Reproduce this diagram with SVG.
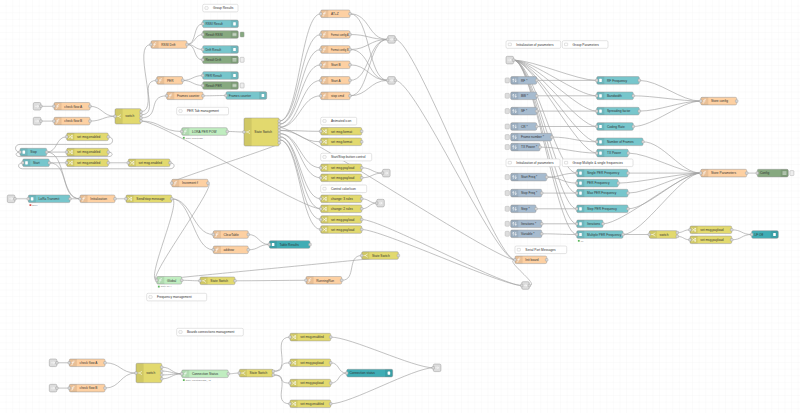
<svg xmlns="http://www.w3.org/2000/svg" width="800" height="413" viewBox="0 0 800 413">
<defs>
<pattern id="grid" width="6.6" height="6.6" patternUnits="userSpaceOnUse"><path d="M6.6 0V6.6H0" fill="none" stroke="#eee" stroke-width="0.5"/></pattern>
<rect id="pt" width="2.6" height="2.6" rx="0.6" fill="#d9d9d9" stroke="#999" stroke-width="0.4"/>
<path id="ial" d="M1.4 0H7.6V7.6H1.4A1.4 1.4 0 0 1 0 6.2V1.4A1.4 1.4 0 0 1 1.4 0Z" fill="#000" fill-opacity="0.08"/>
<path id="iar" d="M0 0H6.2A1.4 1.4 0 0 1 7.6 1.4V6.2A1.4 1.4 0 0 1 6.2 7.6H0Z" fill="#000" fill-opacity="0.08"/>
<path id="i-fn" class="ic" d="M4.9 2.1C4 1.8 3.6 2.3 3.5 3L3.1 5.4C3 6 2.6 6 2.2 5.7M2.7 3.6H4.5"/>
<path id="i-ch" class="ic" d="M2 2.4L5.6 5.2M2 5.2L5.6 2.4M4.6 2.4H5.6V3.3M4.6 5.2H5.6V4.3"/>
<path id="i-sw" class="ic" d="M5.7 2.3L3.4 3.8L5.7 5.3M1.9 3.8H3.4"/>
<path id="i-in" class="ic" d="M2.6 2.4V5.2M5 2.4V5.2M2 3.2L2.6 2.4L3.2 3.2M4.4 4.4L5 5.2L5.6 4.4"/>
<rect id="i-ui" x="2.5" y="2.2" width="2.6" height="3.2" rx="0.4" fill="#fff"/>
<path id="i-db" class="ic" d="M2.2 2.6H5.4M2.2 3.8H5.4M2.2 5H5.4"/>
<path id="i-lk" class="ic" d="M2 3.8H5.2M4.2 2.8L5.2 3.8L4.2 4.8"/>
<rect id="i-cm" x="2.2" y="2.4" width="3.2" height="2.6" rx="0.4" fill="none" stroke="#bbb" stroke-width="0.45"/>
<rect id="ib" x="-5.6" y="1.3" width="4.3" height="5" rx="1" fill="#ddd" stroke="#aaa" stroke-width="0.4"/>
</defs>
<style>
.n{stroke:#999;stroke-width:.5}
.fn{fill:#fdd0a2}.ch{fill:#e2d96e}.ui{fill:#77c6cc}.ud{fill:#3fadb5}.db{fill:#87a980}.ij{fill:#a6bbcf}.lk{fill:#ddd}.sg{fill:#c0edc0}.cm{fill:#fff;stroke:#c8c8c8;stroke-width:.5}
.ic{fill:none;stroke:#fff;stroke-width:.55;stroke-linecap:round;stroke-linejoin:round}
text{font-family:"Liberation Sans",Arial,sans-serif;font-size:3.2px;fill:#333}
text.s{font-size:2.3px;fill:#888}
.w{fill:none;stroke:#a0a0a0;stroke-width:.65}
.bt{stroke:#999;stroke-width:.4}
</style>
<rect width="800" height="413" fill="#fff"/>
<rect width="800" height="413" fill="url(#grid)"/>

<g id="connectors" class="w">
<path d="M40.9 106.3H54M40.9 121.1H54"/>
<path d="M90 106.3C102 106.3 103 116.35 115 116.35M90 121.1C102 121.1 103 116.35 115 116.35"/>
<path d="M141 111.7C161 111.7 131 44.5 151 44.5M141 114.8C161 114.8 136.7 80.4 156.7 80.4M141 117.9C161 117.9 146.7 95.8 166.7 95.8M141 121C161 121 161.7 131.5 181.7 131.5M141 121C161 121 300.7 208.8 320.7 208.8"/>
<path d="M187 44.5C197 44.5 192.7 23.8 202.7 23.8M187 44.5C195 44.5 194.7 34.5 202.7 34.5M187 44.5C195 44.5 194.7 49.5 202.7 49.5M187 44.5C197 44.5 192.7 59.8 202.7 59.8"/>
<path d="M182.7 80.4C192 80.4 193.4 75.5 202.7 75.5M182.7 80.4C192 80.4 193.4 85.5 202.7 85.5M203 95.8C214 95.8 215 95.5 226 95.5M227.3 131.5C236 131.5 235.3 132 244 132"/>
<path d="M279.3 121.1C299.3 121.1 300.7 13.8 320.7 13.8M279.3 121.1C299.3 121.1 300.7 34.5 320.7 34.5M279.3 124.2C299.3 124.2 300.7 49.5 320.7 49.5M279.3 124.2C299.3 124.2 300.7 64.8 320.7 64.8M279.3 127.3C299.3 127.3 300.7 80.4 320.7 80.4M279.3 127.3C299.3 127.3 300.7 95.8 320.7 95.8M279.3 127.3C299.3 127.3 495 259.8 515 259.8"/>
<path d="M279.3 130.4C299.3 130.4 300.7 131.3 320.7 131.3M279.3 130.4C299.3 130.4 300.7 141.8 320.7 141.8M279.3 133.5C299.3 133.5 300.7 167.8 320.7 167.8M279.3 133.5C299.3 133.5 300.7 177.8 320.7 177.8M279.3 136.6C299.3 136.6 300.7 198.8 320.7 198.8M279.3 136.6C299.3 136.6 300.7 208.8 320.7 208.8M279.3 139.7C299.3 139.7 300.7 219.5 320.7 219.5M279.3 139.7C299.3 139.7 300.7 229.5 320.7 229.5M279.3 142.8C291 142.8 160 183.1 171.7 183.1"/>
<path d="M350 13.8C370 13.8 367.7 39.4 387.7 39.4M350 13.8C370 13.8 367.7 80.4 387.7 80.4M350 34.5C368 34.5 369.7 39.4 387.7 39.4M350 49.5C368 49.5 369.7 39.4 387.7 39.4M350 49.5C370 49.5 367.7 80.4 387.7 80.4M350 64.8C368 64.8 369.7 80.4 387.7 80.4M350 80.4C370 80.4 367.7 39.4 387.7 39.4M350 95.8C370 95.8 367.7 39.4 387.7 39.4M350 95.8C368 95.8 369.7 80.4 387.7 80.4"/>
<path d="M395.3 39.4C415.3 39.4 495 259.8 515 259.8M395.3 80.4C415.3 80.4 495 259.8 515 259.8"/>
<path d="M361.7 167.8C372 167.8 372.2 173.1 382.5 173.1M361.7 177.8C372 177.8 372.2 173.1 382.5 173.1M361.7 198.8C369 198.8 369.4 203.1 376.7 203.1M361.7 208.8C369 208.8 369.4 203.1 376.7 203.1"/>
<path d="M361.7 219.5C381.7 219.5 501.7 285.5 521.7 285.5M361.7 229.5C381.7 229.5 501.7 285.5 521.7 285.5M529.3 285.5C541 285.5 503.3 259.8 515 259.8"/>
<path d="M46.7 152.1H66.7M46.7 152.1C58 152.1 55.4 136.8 66.7 136.8M46.7 152.1C66.7 152.1 60 198.8 80 198.8M49.3 162.8H66.7M49.3 162.8C69.3 162.8 60 198.8 80 198.8"/>
<path d="M108.3 152.1C113.5 152.1 113.5 156.6 108.3 156.6H20C14.8 156.6 14.8 152.1 20 152.1M170 162.8C175.5 162.8 175.5 168.8 170 168.8H22.7C17.2 168.8 17.2 162.8 22.7 162.8M108.3 136.8C114 136.8 114 144.4 108.3 144.4H20C14 144.4 14 152.1 20 152.1M108.3 162.8H128.3"/>
<path d="M14.9 198.8H28.3M70 198.8H80M115 198.8H126"/>
<path d="M171.7 198.8C191.7 198.8 193.3 234.5 213.3 234.5M171.7 198.8C191.7 198.8 193.3 249.8 213.3 249.8M171.7 198.8C183 198.8 145 280.3 156.7 280.3M208 183.1C219 183.1 145 280.3 156.7 280.3"/>
<path d="M248.3 234.5C259 234.5 258.6 244.5 269.3 244.5M248.3 249.8C259 249.8 258.6 244.5 269.3 244.5"/>
<path d="M181.7 280.3C191 280.3 190.7 280.8 200 280.8M235 280.8C255 280.8 286 280.3 306 280.3M341.7 280.3C357 280.3 346.4 255.5 361.7 255.5M398.4 255.5C410 255.5 145 280.3 156.7 280.3"/>
<path d="M513.6 60.1C533.6 60.1 576.7 80.4 596.7 80.4M513.6 60.1C533.6 60.1 576.7 95.8 596.7 95.8M513.6 60.1C533.6 60.1 576.7 111.1 596.7 111.1M513.6 60.1C533.6 60.1 576.7 126.5 596.7 126.5M513.6 60.1C533.6 60.1 576.7 141.8 596.7 141.8M513.6 60.1C533.6 60.1 576.7 153.1 596.7 153.1"/>
<path d="M513.6 60.1C533.6 60.1 556.7 173.1 576.7 173.1M513.6 60.1C533.6 60.1 556.7 193.1 576.7 193.1M513.6 60.1C533.6 60.1 556.7 208.8 576.7 208.8M513.6 60.1C533.6 60.1 556.7 223.8 576.7 223.8M513.6 60.1C533.6 60.1 556.7 234.5 576.7 234.5"/>
<path d="M536.7 80.4H596.7M536.7 95.8H596.7M536.7 111.1H596.7M536.7 126.5H596.7M551.7 137.1C571.7 137.1 576.7 141.8 596.7 141.8M540 147.1C560 147.1 576.7 153.1 596.7 153.1"/>
<path d="M546.7 177.1C561 177.1 562.4 173.1 576.7 173.1M546.7 177.1C561 177.1 562.4 183.1 576.7 183.1M541.7 193.1H576.7M536 208.8H576.7M541.7 223.8H576.7M541.7 233.8C559 233.8 559.4 234.5 576.7 234.5"/>
<path d="M639.3 80.4C659.3 80.4 680.7 101.1 700.7 101.1M633.3 95.8C653.3 95.8 680.7 101.1 700.7 101.1M639.3 111.1C659.3 111.1 680.7 101.1 700.7 101.1M633.3 126.5C653.3 126.5 680.7 101.1 700.7 101.1"/>
<path d="M643 141.8C663 141.8 680.7 173.1 700.7 173.1M628.3 153.1C648.3 153.1 680.7 173.1 700.7 173.1M628 173.1H700.7M618.3 183.1C638.3 183.1 680.7 173.1 700.7 173.1M628 193.1C648 193.1 680.7 173.1 700.7 173.1M628 208.8C648 208.8 680.7 173.1 700.7 173.1M603 223.8C623 223.8 680.7 173.1 700.7 173.1M623 234.5C643 234.5 680.7 173.1 700.7 173.1"/>
<path d="M746.7 173.1H757.3M623 234.5H649.3M677.3 232.6C684 232.6 683.3 229.8 690 229.8M677.3 236.4C684 236.4 683.3 239.8 690 239.8M731.7 229.8C742 229.8 741.4 234.5 751.7 234.5M731.7 239.8C742 239.8 741.4 234.5 751.7 234.5"/>
<path d="M56.9 362.8H69.3M56.9 388.1H69.3M105 362.8C120.5 362.8 120.5 373 136 373M105 388.1C120.5 388.1 120.5 373 136 373"/>
<path d="M161.7 367.2C171.7 367.2 171.7 373.8 181.7 373.8M161.7 371.1C171.7 371.1 171.7 373.8 181.7 373.8M161.7 374.9C171.7 374.9 171.7 373.8 181.7 373.8M161.7 378.8C171.7 378.8 171.7 373.8 181.7 373.8M228.3 373.8C234 373.8 233.6 373.1 239.3 373.1"/>
<path d="M273.3 371.3C293.3 371.3 270 337.1 290 337.1M273.3 371.3C288 371.3 275.3 362.8 290 362.8M273.3 374.9C288 374.9 275.3 383.1 290 383.1M273.3 374.9C293.3 374.9 270 403.8 290 403.8"/>
<path d="M330.7 362.8C340 362.8 337.4 373.1 346.7 373.1M330.7 383.1C340 383.1 337.4 373.1 346.7 373.1M330.7 337.1C350.7 337.1 413.3 367.8 433.3 367.8M330.7 403.8C350.7 403.8 413.3 367.8 433.3 367.8"/>
</g>

<!-- comments -->
<g id="c-group-results" transform="translate(202.7,4.3)"><rect class="cm" width="35.3" height="7.6" rx="1.4"/><use href="#i-cm"/><text x="10.3" y="5">Group Results</text></g>
<g id="c-per-tab" transform="translate(176.7,107.3)"><rect class="cm" width="51.8" height="7.6" rx="1.4"/><use href="#i-cm"/><text x="10.3" y="5">PER Tab management</text></g>
<g id="c-animated" transform="translate(320.7,117.3)"><rect class="cm" width="36" height="7.6" rx="1.4"/><use href="#i-cm"/><text x="10.3" y="5">Animated icon</text></g>
<g id="c-startstop" transform="translate(320.7,153.3)"><rect class="cm" width="51" height="7.6" rx="1.4"/><use href="#i-cm"/><text x="10.3" y="5">Start/Stop button control</text></g>
<g id="c-color" transform="translate(320.7,185)"><rect class="cm" width="46" height="7.6" rx="1.4"/><use href="#i-cm"/><text x="10.3" y="5">Control color/icon</text></g>
<g id="c-init1" transform="translate(506,40.7)"><rect class="cm" width="54.7" height="7.6" rx="1.4"/><use href="#i-cm"/><text x="10.3" y="5">Initialization of parameters</text></g>
<g id="c-grp-params" transform="translate(562.3,40.7)"><rect class="cm" width="45.7" height="7.6" rx="1.4"/><use href="#i-cm"/><text x="10.3" y="5">Group Parameters</text></g>
<g id="c-init2" transform="translate(506,159)"><rect class="cm" width="54" height="7.6" rx="1.4"/><use href="#i-cm"/><text x="10.3" y="5">Initialization of parameters</text></g>
<g id="c-grp-freq" transform="translate(562.3,159)"><rect class="cm" width="70.7" height="7.6" rx="1.4"/><use href="#i-cm"/><text x="10.3" y="5">Group Multiple &amp; single frequencies</text></g>
<g id="c-serial" transform="translate(515,246)"><rect class="cm" width="51.7" height="7.6" rx="1.4"/><use href="#i-cm"/><text x="10.3" y="5">Serial Port Messages</text></g>
<g id="c-freq" transform="translate(146.7,293.3)"><rect class="cm" width="60" height="7.6" rx="1.4"/><use href="#i-cm"/><text x="10.3" y="5">Frequency management</text></g>
<g id="c-boards" transform="translate(176.7,328.3)"><rect class="cm" width="66.6" height="7.6" rx="1.4"/><use href="#i-cm"/><text x="10.3" y="5">Boards connections management</text></g>

<!-- top-left flow -->
<g id="link-1" transform="translate(33.3,102.5)"><rect class="n lk" width="7.6" height="7.6" rx="1.4"/><use href="#i-lk"/><use href="#pt" x="6.3" y="2.5"/></g>
<g id="link-2" transform="translate(33.3,117.3)"><rect class="n lk" width="7.6" height="7.6" rx="1.4"/><use href="#i-lk"/><use href="#pt" x="6.3" y="2.5"/></g>
<g id="check-a" transform="translate(54,102.5)"><rect class="n fn" width="36" height="7.6" rx="1.4"/><use href="#ial"/><use href="#i-fn"/><text x="10.3" y="5">check flow A</text><use href="#pt" x="-1.3" y="2.5"/><use href="#pt" x="34.7" y="2.5"/></g>
<g id="check-b" transform="translate(54,117.3)"><rect class="n fn" width="36" height="7.6" rx="1.4"/><use href="#ial"/><use href="#i-fn"/><text x="10.3" y="5">check flow B</text><use href="#pt" x="-1.3" y="2.5"/><use href="#pt" x="34.7" y="2.5"/></g>
<g id="switch-1" transform="translate(115,108.7)"><rect class="n ch" width="26" height="15.3" rx="1.4"/><path d="M1.4 0H7.6V15.3H1.4A1.4 1.4 0 0 1 0 13.9V1.4A1.4 1.4 0 0 1 1.4 0Z" fill="#000" fill-opacity="0.08"/><use href="#i-sw" y="3.85"/><text x="10.3" y="8.8">switch</text><use href="#pt" x="-1.3" y="6.35"/><use href="#pt" x="24.7" y="1.7"/><use href="#pt" x="24.7" y="4.8"/><use href="#pt" x="24.7" y="7.9"/><use href="#pt" x="24.7" y="11"/></g>
<g id="rssi-drift" transform="translate(151,40.7)"><rect class="n fn" width="36" height="7.6" rx="1.4"/><use href="#ial"/><use href="#i-fn"/><text x="10.3" y="5">RSSI Drift</text><use href="#pt" x="-1.3" y="2.5"/><use href="#pt" x="34.7" y="2.5"/></g>
<g id="per" transform="translate(156.7,76.6)"><rect class="n fn" width="26" height="7.6" rx="1.4"/><use href="#ial"/><use href="#i-fn"/><text x="10.3" y="5">PER</text><use href="#pt" x="-1.3" y="2.5"/><use href="#pt" x="24.7" y="2.5"/></g>
<g id="frames-counter-fn" transform="translate(166.7,92)"><rect class="n fn" width="36.3" height="7.6" rx="1.4"/><use href="#ial"/><use href="#i-fn"/><text x="10.3" y="5">Frames counter</text><use href="#pt" x="-1.3" y="2.5"/><use href="#pt" x="35" y="2.5"/></g>
<g id="lora-per-pow" transform="translate(181.7,127.7)"><rect class="n sg" width="45.6" height="7.6" rx="1.4"/><use href="#ial"/><use href="#i-fn"/><text x="10.3" y="5">LORA PER POW</text><use href="#pt" x="-1.3" y="2.5"/><use href="#pt" x="44.3" y="2.5"/><rect x="1.2" y="9.2" width="1.8" height="1.8" fill="#5cb85c"/><text class="s" x="4" y="10.9">state: STOPPED</text></g>
<g id="set-enabled-a" transform="translate(66.7,133)"><rect class="n ch" width="41.6" height="7.6" rx="1.4"/><use href="#ial"/><use href="#i-ch"/><text x="10.3" y="5">set msg.enabled</text><use href="#pt" x="-1.3" y="2.5"/><use href="#pt" x="40.3" y="2.5"/></g>

<!-- results -->
<g id="rssi-result" transform="translate(202.7,20)"><rect class="n ui" width="35.6" height="7.6" rx="1.4"/><use href="#iar" x="28"/><use href="#i-ui" x="28"/><text x="2.7" y="5">RSSI Result</text><use href="#pt" x="-1.3" y="2.5"/></g>
<g id="result-rssi" transform="translate(202.7,30.7)"><rect class="n db" width="35.6" height="7.6" rx="1.4"/><use href="#iar" x="28"/><use href="#i-db" x="28"/><text x="2.7" y="5">Result RSSI</text><use href="#pt" x="-1.3" y="2.5"/><rect class="bt" x="37.4" y="1.3" width="4" height="5" rx="0.8" fill="#87a980"/></g>
<g id="drift-result" transform="translate(202.7,45.7)"><rect class="n ui" width="35.6" height="7.6" rx="1.4"/><use href="#iar" x="28"/><use href="#i-ui" x="28"/><text x="2.7" y="5">Drift Result</text><use href="#pt" x="-1.3" y="2.5"/></g>
<g id="result-drift" transform="translate(202.7,56)"><rect class="n db" width="35.6" height="7.6" rx="1.4"/><use href="#iar" x="28"/><use href="#i-db" x="28"/><text x="2.7" y="5">Result Drift</text><use href="#pt" x="-1.3" y="2.5"/><rect class="bt" x="37.4" y="1.3" width="4" height="5" rx="0.8" fill="#eee"/></g>
<g id="per-result" transform="translate(202.7,71.7)"><rect class="n ui" width="35.6" height="7.6" rx="1.4"/><use href="#iar" x="28"/><use href="#i-ui" x="28"/><text x="2.7" y="5">PER Result</text><use href="#pt" x="-1.3" y="2.5"/></g>
<g id="result-per" transform="translate(202.7,81.7)"><rect class="n db" width="35.6" height="7.6" rx="1.4"/><use href="#iar" x="28"/><use href="#i-db" x="28"/><text x="2.7" y="5">Result PER</text><use href="#pt" x="-1.3" y="2.5"/><rect class="bt" x="37.4" y="1.3" width="4" height="5" rx="0.8" fill="#eee"/></g>
<g id="frames-counter-ui" transform="translate(226,91.7)"><rect class="n ui" width="40.7" height="7.6" rx="1.4"/><use href="#iar" x="33.1"/><use href="#i-ui" x="33.1"/><text x="2.7" y="5">Frames counter</text><use href="#pt" x="-1.3" y="2.5"/></g>

<!-- state switch and commands -->
<g id="state-switch-main" transform="translate(244,118)"><rect class="n ch" width="35.3" height="28" rx="1.4"/><path d="M1.4 0H7.6V28H1.4A1.4 1.4 0 0 1 0 26.6V1.4A1.4 1.4 0 0 1 1.4 0Z" fill="#000" fill-opacity="0.08"/><use href="#i-sw" y="10.2"/><text x="10.3" y="15.1">State Switch</text><use href="#pt" x="-1.3" y="12.7"/><use href="#pt" x="34" y="1.8"/><use href="#pt" x="34" y="4.9"/><use href="#pt" x="34" y="8"/><use href="#pt" x="34" y="11.1"/><use href="#pt" x="34" y="14.2"/><use href="#pt" x="34" y="17.3"/><use href="#pt" x="34" y="20.4"/><use href="#pt" x="34" y="23.5"/></g>
<g id="at-z" transform="translate(320.7,10)"><rect class="n fn" width="29.3" height="7.6" rx="1.4"/><use href="#ial"/><use href="#i-fn"/><text x="10.3" y="5">AT+Z</text><use href="#pt" x="-1.3" y="2.5"/><use href="#pt" x="28" y="2.5"/></g>
<g id="format-a" transform="translate(320.7,30.7)"><rect class="n fn" width="29.3" height="7.6" rx="1.4"/><use href="#ial"/><use href="#i-fn"/><text x="10.3" y="5" textLength="17.6" lengthAdjust="spacingAndGlyphs">Format config A</text><use href="#pt" x="-1.3" y="2.5"/><use href="#pt" x="28" y="2.5"/></g>
<g id="format-b" transform="translate(320.7,45.7)"><rect class="n fn" width="29.3" height="7.6" rx="1.4"/><use href="#ial"/><use href="#i-fn"/><text x="10.3" y="5" textLength="17.6" lengthAdjust="spacingAndGlyphs">Format config B</text><use href="#pt" x="-1.3" y="2.5"/><use href="#pt" x="28" y="2.5"/></g>
<g id="start-b" transform="translate(320.7,61)"><rect class="n fn" width="29.3" height="7.6" rx="1.4"/><use href="#ial"/><use href="#i-fn"/><text x="10.3" y="5">Start B</text><use href="#pt" x="-1.3" y="2.5"/><use href="#pt" x="28" y="2.5"/></g>
<g id="start-a" transform="translate(320.7,76.6)"><rect class="n fn" width="29.3" height="7.6" rx="1.4"/><use href="#ial"/><use href="#i-fn"/><text x="10.3" y="5">Start A</text><use href="#pt" x="-1.3" y="2.5"/><use href="#pt" x="28" y="2.5"/></g>
<g id="stop-cmd" transform="translate(320.7,92)"><rect class="n fn" width="29.3" height="7.6" rx="1.4"/><use href="#ial"/><use href="#i-fn"/><text x="10.3" y="5">stop cmd</text><use href="#pt" x="-1.3" y="2.5"/><use href="#pt" x="28" y="2.5"/></g>
<g id="link-3" transform="translate(387.7,35.6)"><rect class="n lk" width="7.6" height="7.6" rx="1.4"/><use href="#i-lk"/><use href="#pt" x="-1.3" y="2.5"/><use href="#pt" x="6.3" y="2.5"/></g>
<g id="link-4" transform="translate(387.7,76.6)"><rect class="n lk" width="7.6" height="7.6" rx="1.4"/><use href="#i-lk"/><use href="#pt" x="-1.3" y="2.5"/><use href="#pt" x="6.3" y="2.5"/></g>
<g id="set-format-1" transform="translate(320.7,127.5)"><rect class="n ch" width="41" height="7.6" rx="1.4"/><use href="#ial"/><use href="#i-ch"/><text x="10.3" y="5">set msg.format</text><use href="#pt" x="-1.3" y="2.5"/><use href="#pt" x="39.7" y="2.5"/></g>
<g id="set-format-2" transform="translate(320.7,138)"><rect class="n ch" width="41" height="7.6" rx="1.4"/><use href="#ial"/><use href="#i-ch"/><text x="10.3" y="5">set msg.format</text><use href="#pt" x="-1.3" y="2.5"/><use href="#pt" x="39.7" y="2.5"/></g>
<g id="set-payload-1" transform="translate(320.7,164)"><rect class="n ch" width="41" height="7.6" rx="1.4"/><use href="#ial"/><use href="#i-ch"/><text x="10.3" y="5">set msg.payload</text><use href="#pt" x="-1.3" y="2.5"/><use href="#pt" x="39.7" y="2.5"/></g>
<g id="set-payload-2" transform="translate(320.7,174)"><rect class="n ch" width="41" height="7.6" rx="1.4"/><use href="#ial"/><use href="#i-ch"/><text x="10.3" y="5">set msg.payload</text><use href="#pt" x="-1.3" y="2.5"/><use href="#pt" x="39.7" y="2.5"/></g>
<g id="link-6" transform="translate(382.5,169.3)"><rect class="n lk" width="7.6" height="7.6" rx="1.4"/><use href="#i-lk"/><use href="#pt" x="-1.3" y="2.5"/></g>
<g id="change-3" transform="translate(320.7,195)"><rect class="n ch" width="41" height="7.6" rx="1.4"/><use href="#ial"/><use href="#i-ch"/><text x="10.3" y="5">change: 3 rules</text><use href="#pt" x="-1.3" y="2.5"/><use href="#pt" x="39.7" y="2.5"/></g>
<g id="change-2" transform="translate(320.7,205)"><rect class="n ch" width="41" height="7.6" rx="1.4"/><use href="#ial"/><use href="#i-ch"/><text x="10.3" y="5">change: 2 rules</text><use href="#pt" x="-1.3" y="2.5"/><use href="#pt" x="39.7" y="2.5"/></g>
<g id="link-7" transform="translate(376.7,199.3)"><rect class="n lk" width="7.6" height="7.6" rx="1.4"/><use href="#i-lk"/><use href="#pt" x="-1.3" y="2.5"/></g>
<g id="set-payload-3" transform="translate(320.7,215.7)"><rect class="n ch" width="41" height="7.6" rx="1.4"/><use href="#ial"/><use href="#i-ch"/><text x="10.3" y="5">set msg.payload</text><use href="#pt" x="-1.3" y="2.5"/><use href="#pt" x="39.7" y="2.5"/></g>
<g id="set-payload-4" transform="translate(320.7,225.7)"><rect class="n ch" width="41" height="7.6" rx="1.4"/><use href="#ial"/><use href="#i-ch"/><text x="10.3" y="5">set msg.payload</text><use href="#pt" x="-1.3" y="2.5"/><use href="#pt" x="39.7" y="2.5"/></g>

<!-- start / stop -->
<g id="stop" transform="translate(20,148.3)"><rect class="n ui" width="26.7" height="7.6" rx="1.4"/><use href="#ial"/><use href="#i-ui"/><text x="10.3" y="5">Stop</text><use href="#pt" x="-1.3" y="2.5"/><use href="#pt" x="25.4" y="2.5"/></g>
<g id="start" transform="translate(22.7,159)"><rect class="n ui" width="26.6" height="7.6" rx="1.4"/><use href="#ial"/><use href="#i-ui"/><text x="10.3" y="5">Start</text><use href="#pt" x="-1.3" y="2.5"/><use href="#pt" x="25.3" y="2.5"/></g>
<g id="set-enabled-b" transform="translate(66.7,148.3)"><rect class="n ch" width="41.6" height="7.6" rx="1.4"/><use href="#ial"/><use href="#i-ch"/><text x="10.3" y="5">set msg.enabled</text><use href="#pt" x="-1.3" y="2.5"/><use href="#pt" x="40.3" y="2.5"/></g>
<g id="set-enabled-c" transform="translate(66.7,159)"><rect class="n ch" width="41.6" height="7.6" rx="1.4"/><use href="#ial"/><use href="#i-ch"/><text x="10.3" y="5">set msg.enabled</text><use href="#pt" x="-1.3" y="2.5"/><use href="#pt" x="40.3" y="2.5"/></g>
<g id="set-enabled-d" transform="translate(128.3,159)"><rect class="n ch" width="41.7" height="7.6" rx="1.4"/><use href="#ial"/><use href="#i-ch"/><text x="10.3" y="5">set msg.enabled</text><use href="#pt" x="-1.3" y="2.5"/><use href="#pt" x="40.4" y="2.5"/></g>

<!-- transmit chain -->
<g id="link-8" transform="translate(7.3,195)"><rect class="n lk" width="7.6" height="7.6" rx="1.4"/><use href="#i-lk"/><use href="#pt" x="6.3" y="2.5"/></g>
<g id="lora-transmit" transform="translate(28.3,195)"><rect class="n ui" width="41.7" height="7.6" rx="1.4"/><use href="#ial"/><use href="#i-ui"/><text x="10.3" y="5">LoRa Transmit</text><use href="#pt" x="-1.3" y="2.5"/><use href="#pt" x="40.4" y="2.5"/><rect x="1.2" y="9.2" width="1.8" height="1.8" fill="#d9534f"/><text class="s" x="4" y="10.9">Error</text></g>
<g id="initialization" transform="translate(80,195)"><rect class="n fn" width="35" height="7.6" rx="1.4"/><use href="#ial"/><use href="#i-fn"/><text x="10.3" y="5">Initialization</text><use href="#pt" x="-1.3" y="2.5"/><use href="#pt" x="33.7" y="2.5"/></g>
<g id="send-stop" transform="translate(126,195)"><rect class="n ch" width="45.7" height="7.6" rx="1.4"/><use href="#ial"/><use href="#i-ch"/><text x="10.3" y="5">Send/stop message</text><use href="#pt" x="-1.3" y="2.5"/><use href="#pt" x="44.4" y="2.5"/></g>
<g id="increment-f" transform="translate(171.7,179.3)"><rect class="n fn" width="36.3" height="7.6" rx="1.4"/><use href="#ial"/><use href="#i-fn"/><text x="10.3" y="5">Increment f</text><use href="#pt" x="-1.3" y="2.5"/><use href="#pt" x="35" y="2.5"/></g>
<g id="clear-table" transform="translate(213.3,230.7)"><rect class="n fn" width="35" height="7.6" rx="1.4"/><use href="#ial"/><use href="#i-fn"/><text x="10.3" y="5">ClearTable</text><use href="#pt" x="-1.3" y="2.5"/><use href="#pt" x="33.7" y="2.5"/></g>
<g id="addrow" transform="translate(213.3,246)"><rect class="n fn" width="35" height="7.6" rx="1.4"/><use href="#ial"/><use href="#i-fn"/><text x="10.3" y="5">addrow</text><use href="#pt" x="-1.3" y="2.5"/><use href="#pt" x="33.7" y="2.5"/></g>
<g id="table-results" transform="translate(269.3,240.7)"><rect class="n ud" width="40.7" height="7.6" rx="1.4"/><use href="#ial"/><use href="#i-ui"/><text x="10.3" y="5">Table Results</text><use href="#pt" x="-1.3" y="2.5"/><use href="#pt" x="39.4" y="2.5"/></g>
<g id="state-switch-small" transform="translate(361.7,251.7)"><rect class="n ch" width="36.7" height="7.6" rx="1.4"/><use href="#ial"/><use href="#i-sw"/><text x="10.3" y="5">State Switch</text><use href="#pt" x="-1.3" y="2.5"/><use href="#pt" x="35.4" y="2.5"/></g>
<g id="global" transform="translate(156.7,276.5)"><rect class="n sg" width="25" height="7.6" rx="1.4"/><use href="#ial"/><use href="#i-fn"/><text x="10.3" y="5">Global</text><use href="#pt" x="-1.3" y="2.5"/><use href="#pt" x="23.7" y="2.5"/><rect x="1.2" y="9.2" width="1.8" height="1.8" fill="#5cb85c"/><text class="s" x="4" y="10.9">state: 50.4</text></g>
<g id="state-switch-2" transform="translate(200,277)"><rect class="n ch" width="35" height="7.6" rx="1.4"/><use href="#ial"/><use href="#i-sw"/><text x="10.3" y="5">State Switch</text><use href="#pt" x="-1.3" y="2.5"/><use href="#pt" x="33.7" y="2.5"/></g>
<g id="running-run" transform="translate(306,276.5)"><rect class="n fn" width="35.7" height="7.6" rx="1.4"/><use href="#ial"/><use href="#i-fn"/><text x="10.3" y="5">RunningRun</text><use href="#pt" x="-1.3" y="2.5"/><use href="#pt" x="34.4" y="2.5"/></g>

<!-- parameters -->
<g id="link-5" transform="translate(506,56.3)"><rect class="n lk" width="7.6" height="7.6" rx="1.4"/><use href="#i-lk"/><use href="#pt" x="6.3" y="2.5"/></g>
<g id="inj-rf" transform="translate(510.7,76.6)"><use href="#ib"/><rect class="n ij" width="26" height="7.6" rx="1.4"/><use href="#ial"/><use href="#i-in"/><text x="10.3" y="5">RF *</text><use href="#pt" x="24.7" y="2.5"/></g>
<g id="inj-bw" transform="translate(510.7,92)"><use href="#ib"/><rect class="n ij" width="26" height="7.6" rx="1.4"/><use href="#ial"/><use href="#i-in"/><text x="10.3" y="5">BW *</text><use href="#pt" x="24.7" y="2.5"/></g>
<g id="inj-sf" transform="translate(510.7,107.3)"><use href="#ib"/><rect class="n ij" width="26" height="7.6" rx="1.4"/><use href="#ial"/><use href="#i-in"/><text x="10.3" y="5">SF *</text><use href="#pt" x="24.7" y="2.5"/></g>
<g id="inj-cr" transform="translate(510.7,122.7)"><use href="#ib"/><rect class="n ij" width="26" height="7.6" rx="1.4"/><use href="#ial"/><use href="#i-in"/><text x="10.3" y="5">CR *</text><use href="#pt" x="24.7" y="2.5"/></g>
<g id="inj-frame" transform="translate(510.7,133.3)"><use href="#ib"/><rect class="n ij" width="41" height="7.6" rx="1.4"/><use href="#ial"/><use href="#i-in"/><text x="10.3" y="5">Frame number *</text><use href="#pt" x="39.7" y="2.5"/></g>
<g id="inj-tx" transform="translate(510.7,143.3)"><use href="#ib"/><rect class="n ij" width="29.3" height="7.6" rx="1.4"/><use href="#ial"/><use href="#i-in"/><text x="10.3" y="5">TX Power *</text><use href="#pt" x="28" y="2.5"/></g>
<g id="inj-start" transform="translate(510.7,173.3)"><use href="#ib"/><rect class="n ij" width="36" height="7.6" rx="1.4"/><use href="#ial"/><use href="#i-in"/><text x="10.3" y="5">Start Freq *</text><use href="#pt" x="34.7" y="2.5"/></g>
<g id="inj-stop" transform="translate(510.7,189.3)"><use href="#ib"/><rect class="n ij" width="31" height="7.6" rx="1.4"/><use href="#ial"/><use href="#i-in"/><text x="10.3" y="5">Stop Freq *</text><use href="#pt" x="29.7" y="2.5"/></g>
<g id="inj-step" transform="translate(510.7,205)"><use href="#ib"/><rect class="n ij" width="25.3" height="7.6" rx="1.4"/><use href="#ial"/><use href="#i-in"/><text x="10.3" y="5">Step *</text><use href="#pt" x="24" y="2.5"/></g>
<g id="inj-iter" transform="translate(510.7,220)"><use href="#ib"/><rect class="n ij" width="31" height="7.6" rx="1.4"/><use href="#ial"/><use href="#i-in"/><text x="10.3" y="5">Iterations *</text><use href="#pt" x="29.7" y="2.5"/></g>
<g id="inj-var" transform="translate(510.7,230)"><use href="#ib"/><rect class="n ij" width="31" height="7.6" rx="1.4"/><use href="#ial"/><use href="#i-in"/><text x="10.3" y="5">Variable *</text><use href="#pt" x="29.7" y="2.5"/></g>
<g id="init-board" transform="translate(515,256)"><rect class="n fn" width="31.7" height="7.6" rx="1.4"/><use href="#ial"/><use href="#i-fn"/><text x="10.3" y="5">Init board</text><use href="#pt" x="-1.3" y="2.5"/><use href="#pt" x="30.4" y="2.5"/></g>
<g id="link-12" transform="translate(521.7,281.7)"><rect class="n lk" width="7.6" height="7.6" rx="1.4"/><use href="#i-lk"/><use href="#pt" x="-1.3" y="2.5"/><use href="#pt" x="6.3" y="2.5"/></g>

<g id="ui-rf" transform="translate(596.7,76.6)"><rect class="n ui" width="42.6" height="7.6" rx="1.4"/><use href="#ial"/><use href="#i-ui"/><text x="10.3" y="5">RF Frequency</text><use href="#pt" x="-1.3" y="2.5"/><use href="#pt" x="41.3" y="2.5"/></g>
<g id="ui-bw" transform="translate(596.7,92)"><rect class="n ui" width="36.6" height="7.6" rx="1.4"/><use href="#ial"/><use href="#i-ui"/><text x="10.3" y="5">Bandwidth</text><use href="#pt" x="-1.3" y="2.5"/><use href="#pt" x="35.3" y="2.5"/></g>
<g id="ui-sf" transform="translate(596.7,107.3)"><rect class="n ui" width="42.6" height="7.6" rx="1.4"/><use href="#ial"/><use href="#i-ui"/><text x="10.3" y="5">Spreading factor</text><use href="#pt" x="-1.3" y="2.5"/><use href="#pt" x="41.3" y="2.5"/></g>
<g id="ui-cr" transform="translate(596.7,122.7)"><rect class="n ui" width="36.6" height="7.6" rx="1.4"/><use href="#ial"/><use href="#i-ui"/><text x="10.3" y="5">Coding Rate</text><use href="#pt" x="-1.3" y="2.5"/><use href="#pt" x="35.3" y="2.5"/></g>
<g id="ui-frames" transform="translate(596.7,138)"><rect class="n ui" width="46.3" height="7.6" rx="1.4"/><use href="#ial"/><use href="#i-ui"/><text x="10.3" y="5">Number of Frames</text><use href="#pt" x="-1.3" y="2.5"/><use href="#pt" x="45" y="2.5"/></g>
<g id="ui-tx" transform="translate(596.7,149.3)"><rect class="n ui" width="31.6" height="7.6" rx="1.4"/><use href="#ial"/><use href="#i-ui"/><text x="10.3" y="5">TX Power</text><use href="#pt" x="-1.3" y="2.5"/><use href="#pt" x="30.3" y="2.5"/></g>
<g id="ui-single" transform="translate(576.7,169.3)"><rect class="n ui" width="51.3" height="7.6" rx="1.4"/><use href="#ial"/><use href="#i-ui"/><text x="10.3" y="5">Single PER Frequency</text><use href="#pt" x="-1.3" y="2.5"/><use href="#pt" x="50" y="2.5"/></g>
<g id="ui-per-freq" transform="translate(576.7,179.3)"><rect class="n ui" width="41.6" height="7.6" rx="1.4"/><use href="#ial"/><use href="#i-ui"/><text x="10.3" y="5">PER Frequency</text><use href="#pt" x="-1.3" y="2.5"/><use href="#pt" x="40.3" y="2.5"/></g>
<g id="ui-max" transform="translate(576.7,189.3)"><rect class="n ui" width="51.3" height="7.6" rx="1.4"/><use href="#ial"/><use href="#i-ui"/><text x="10.3" y="5">Max PER Frequency</text><use href="#pt" x="-1.3" y="2.5"/><use href="#pt" x="50" y="2.5"/></g>
<g id="ui-step" transform="translate(576.7,205)"><rect class="n ui" width="51.3" height="7.6" rx="1.4"/><use href="#ial"/><use href="#i-ui"/><text x="10.3" y="5">Step PER Frequency</text><use href="#pt" x="-1.3" y="2.5"/><use href="#pt" x="50" y="2.5"/></g>
<g id="ui-iter" transform="translate(576.7,220)"><rect class="n ui" width="26.3" height="7.6" rx="1.4"/><use href="#ial"/><use href="#i-ui"/><text x="10.3" y="5">Iterations</text><use href="#pt" x="-1.3" y="2.5"/><use href="#pt" x="25" y="2.5"/></g>
<g id="ui-multiple" transform="translate(576.7,230.7)"><rect class="n ui" width="46.3" height="7.6" rx="1.4"/><use href="#ial"/><use href="#i-ui"/><text x="10.3" y="5">Multiple PER Frequency</text><use href="#pt" x="-1.3" y="2.5"/><use href="#pt" x="45" y="2.5"/><rect x="1.2" y="9.2" width="1.8" height="1.8" fill="#5cb85c"/><text class="s" x="4" y="10.9">on</text></g>
<g id="store-config" transform="translate(700.7,97.3)"><rect class="n fn" width="36" height="7.6" rx="1.4"/><use href="#ial"/><use href="#i-fn"/><text x="10.3" y="5">Store config</text><use href="#pt" x="-1.3" y="2.5"/><use href="#pt" x="34.7" y="2.5"/></g>
<g id="store-params" transform="translate(700.7,169.3)"><rect class="n fn" width="46" height="7.6" rx="1.4"/><use href="#ial"/><use href="#i-fn"/><text x="10.3" y="5">Store Parameters</text><use href="#pt" x="-1.3" y="2.5"/><use href="#pt" x="44.7" y="2.5"/></g>
<g id="config" transform="translate(757.3,169.3)"><rect class="n db" width="31" height="7.6" rx="1.4"/><use href="#iar" x="23.4"/><use href="#i-db" x="23.4"/><text x="2.7" y="5">Config</text><use href="#pt" x="-1.3" y="2.5"/><rect class="bt" x="32.6" y="1.3" width="4" height="5" rx="0.8" fill="#eee"/></g>
<g id="switch-r" transform="translate(649.3,230.7)"><rect class="n ch" width="28" height="7.6" rx="1.4"/><use href="#ial"/><use href="#i-sw"/><text x="10.3" y="5">switch</text><use href="#pt" x="-1.3" y="2.5"/><use href="#pt" x="26.7" y="0.6"/><use href="#pt" x="26.7" y="4.4"/></g>
<g id="set-payload-r1" transform="translate(690,226)"><rect class="n ch" width="41.7" height="7.6" rx="1.4"/><use href="#ial"/><use href="#i-ch"/><text x="10.3" y="5">set msg.payload</text><use href="#pt" x="-1.3" y="2.5"/><use href="#pt" x="40.4" y="2.5"/></g>
<g id="set-payload-r2" transform="translate(690,236)"><rect class="n ch" width="41.7" height="7.6" rx="1.4"/><use href="#ial"/><use href="#i-ch"/><text x="10.3" y="5">set msg.payload</text><use href="#pt" x="-1.3" y="2.5"/><use href="#pt" x="40.4" y="2.5"/></g>
<g id="lf-off" transform="translate(751.7,230.7)"><rect class="n ud" width="26.6" height="7.6" rx="1.4"/><use href="#iar" x="19"/><use href="#i-ui" x="19"/><text x="2.7" y="5">LF Off</text><use href="#pt" x="-1.3" y="2.5"/></g>

<!-- connections management -->
<g id="link-9" transform="translate(49.3,359)"><rect class="n lk" width="7.6" height="7.6" rx="1.4"/><use href="#i-lk"/><use href="#pt" x="6.3" y="2.5"/></g>
<g id="link-10" transform="translate(49.3,384.3)"><rect class="n lk" width="7.6" height="7.6" rx="1.4"/><use href="#i-lk"/><use href="#pt" x="6.3" y="2.5"/></g>
<g id="check-a2" transform="translate(69.3,359)"><rect class="n fn" width="35.7" height="7.6" rx="1.4"/><use href="#ial"/><use href="#i-fn"/><text x="10.3" y="5">check flow A</text><use href="#pt" x="-1.3" y="2.5"/><use href="#pt" x="34.4" y="2.5"/></g>
<g id="check-b2" transform="translate(69.3,384.3)"><rect class="n fn" width="35.7" height="7.6" rx="1.4"/><use href="#ial"/><use href="#i-fn"/><text x="10.3" y="5">check flow B</text><use href="#pt" x="-1.3" y="2.5"/><use href="#pt" x="34.4" y="2.5"/></g>
<g id="switch-3" transform="translate(136,363.3)"><rect class="n ch" width="25.7" height="19.4" rx="1.4"/><path d="M1.4 0H7.6V19.4H1.4A1.4 1.4 0 0 1 0 18V1.4A1.4 1.4 0 0 1 1.4 0Z" fill="#000" fill-opacity="0.08"/><use href="#i-sw" y="5.9"/><text x="10.3" y="10.8">switch</text><use href="#pt" x="-1.3" y="8.4"/><use href="#pt" x="24.4" y="2.6"/><use href="#pt" x="24.4" y="6.5"/><use href="#pt" x="24.4" y="10.3"/><use href="#pt" x="24.4" y="14.2"/></g>
<g id="connection-status-in" transform="translate(181.7,370)"><rect class="n sg" width="46.6" height="7.6" rx="1.4"/><use href="#ial"/><use href="#i-fn"/><text x="10.3" y="5">Connection Status</text><use href="#pt" x="-1.3" y="2.5"/><use href="#pt" x="45.3" y="2.5"/><rect x="1.2" y="9.2" width="1.8" height="1.8" fill="#5cb85c"/><text class="s" x="4" y="10.9">state: CONNECTED_AB</text></g>
<g id="state-switch-3" transform="translate(239.3,369.3)"><rect class="n ch" width="34" height="7.6" rx="1.4"/><use href="#ial"/><use href="#i-sw"/><text x="10.3" y="5">State Switch</text><use href="#pt" x="-1.3" y="2.5"/><use href="#pt" x="32.7" y="0.7"/><use href="#pt" x="32.7" y="4.3"/></g>
<g id="set-enabled-e" transform="translate(290,333.3)"><rect class="n ch" width="40.7" height="7.6" rx="1.4"/><use href="#ial"/><use href="#i-ch"/><text x="10.3" y="5">set msg.enabled</text><use href="#pt" x="-1.3" y="2.5"/><use href="#pt" x="39.4" y="2.5"/></g>
<g id="set-payload-a" transform="translate(290,359)"><rect class="n ch" width="40.7" height="7.6" rx="1.4"/><use href="#ial"/><use href="#i-ch"/><text x="10.3" y="5">set msg.payload</text><use href="#pt" x="-1.3" y="2.5"/><use href="#pt" x="39.4" y="2.5"/></g>
<g id="set-payload-b" transform="translate(290,379.3)"><rect class="n ch" width="40.7" height="7.6" rx="1.4"/><use href="#ial"/><use href="#i-ch"/><text x="10.3" y="5">set msg.payload</text><use href="#pt" x="-1.3" y="2.5"/><use href="#pt" x="39.4" y="2.5"/></g>
<g id="set-enabled-f" transform="translate(290,400)"><rect class="n ch" width="40.7" height="7.6" rx="1.4"/><use href="#ial"/><use href="#i-ch"/><text x="10.3" y="5">set msg.enabled</text><use href="#pt" x="-1.3" y="2.5"/><use href="#pt" x="39.4" y="2.5"/></g>
<g id="connection-status-ui" transform="translate(346.7,369.3)"><rect class="n ud" width="46" height="7.6" rx="1.4"/><use href="#iar" x="38.4"/><use href="#i-ui" x="38.4"/><text x="2.7" y="5">Connection status</text><use href="#pt" x="-1.3" y="2.5"/></g>
<g id="link-11" transform="translate(433.3,364)"><rect class="n lk" width="7.6" height="7.6" rx="1.4"/><use href="#i-lk"/><use href="#pt" x="-1.3" y="2.5"/></g>
</svg>
